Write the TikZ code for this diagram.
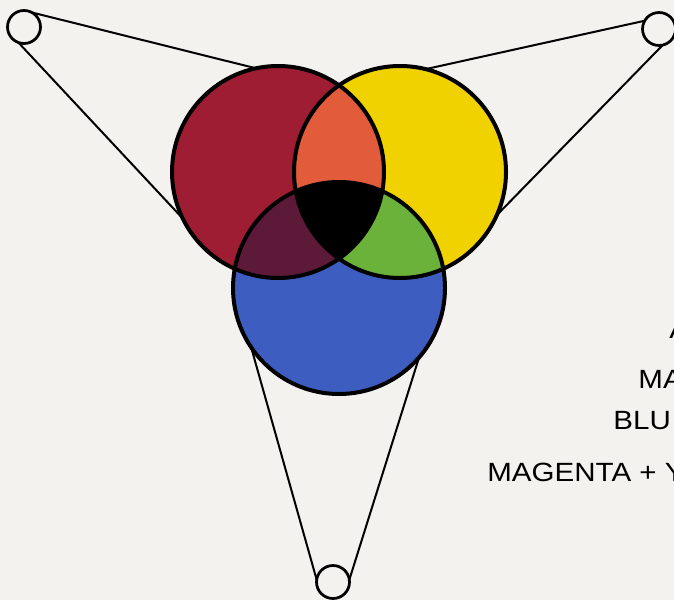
\documentclass[tikz,border=0pt]{standalone}
\usepackage{fontspec}
\setmainfont{Liberation Sans}
\usepackage{xcolor}
\usetikzlibrary{backgrounds}
\definecolor{paper}{HTML}{F4F2EE}
\definecolor{magentapaint}{HTML}{9E1D33}
\definecolor{yellowpaint}{HTML}{EFD200}
\definecolor{bluepaint}{HTML}{3D5EC0}
\definecolor{orangepaint}{HTML}{E25B3B}
\definecolor{plumpaint}{HTML}{5C1A38}
\definecolor{greenpaint}{HTML}{6AB23A}

\begin{document}
\begin{tikzpicture}[
    x=0.2mm, y=-0.2mm,
    disc/.style={circle, fill=#1, minimum size=42.4mm,
                 inner sep=0pt, outer sep=0pt},
    pulley/.style={circle, draw, line width=0.55mm, fill=paper,
                   minimum size=6.6mm, inner sep=0pt, outer sep=0pt},
    belt/.style={line width=0.4mm},
    rim/.style={line width=0.8mm},
    lettering/.style={anchor=west, inner sep=0pt, xscale=1.12,
                      transform shape, font=\fontsize{15}{17}\selectfont}
]
\useasboundingbox (0,0) rectangle (674,600);

\node[disc=magentapaint] (magentadisc) at (278,172) {};
\node[disc=yellowpaint] (yellowdisc) at (400,172) {};
\node[disc=bluepaint] (bluedisc) at (339,288) {};

\node[pulley] (pulleyL) at (24,27) {};
\node[pulley] (pulleyR) at (659,29) {};
\node[pulley] (pulleyB) at (333,582) {};

% belts behind the discs
\begin{pgfonlayer}{background}
\fill[paper] (0,0) rectangle (674,600);
\draw[belt] (pulleyL.62) -- (magentadisc.102.7);
\draw[belt] (pulleyL.250) -- (magentadisc.206.8);
\draw[belt] (pulleyR.150) -- (yellowdisc.76.6);
\draw[belt] (pulleyR.283) -- (yellowdisc.336.4);
\draw[belt] (pulleyB.172) -- (bluedisc.214.9);
\draw[belt] (pulleyB.8) -- (bluedisc.319.6);
\end{pgfonlayer}

% overlaps
\begin{scope}
\clip (magentadisc.center) circle[radius=106];
\fill[orangepaint] (yellowdisc.center) circle[radius=106];
\fill[plumpaint] (bluedisc.center) circle[radius=106];
\end{scope}
\begin{scope}
\clip (yellowdisc.center) circle[radius=106];
\fill[greenpaint] (bluedisc.center) circle[radius=106];
\clip (bluedisc.center) circle[radius=106];
\fill[black] (magentadisc.center) circle[radius=106];
\end{scope}

\foreach \d in {magentadisc, yellowdisc, bluedisc}
    \draw[rim] (\d.center) circle[radius=106];

\node[lettering] (textA) at (669,329) {A};
\node[lettering] (textMA) at (638,379) {MA};
\node[lettering] (textBLU) at (613,421) {BLU};
\node[lettering] (textMY) at (487,472) {MAGENTA + Y};
\end{tikzpicture}
\end{document}
